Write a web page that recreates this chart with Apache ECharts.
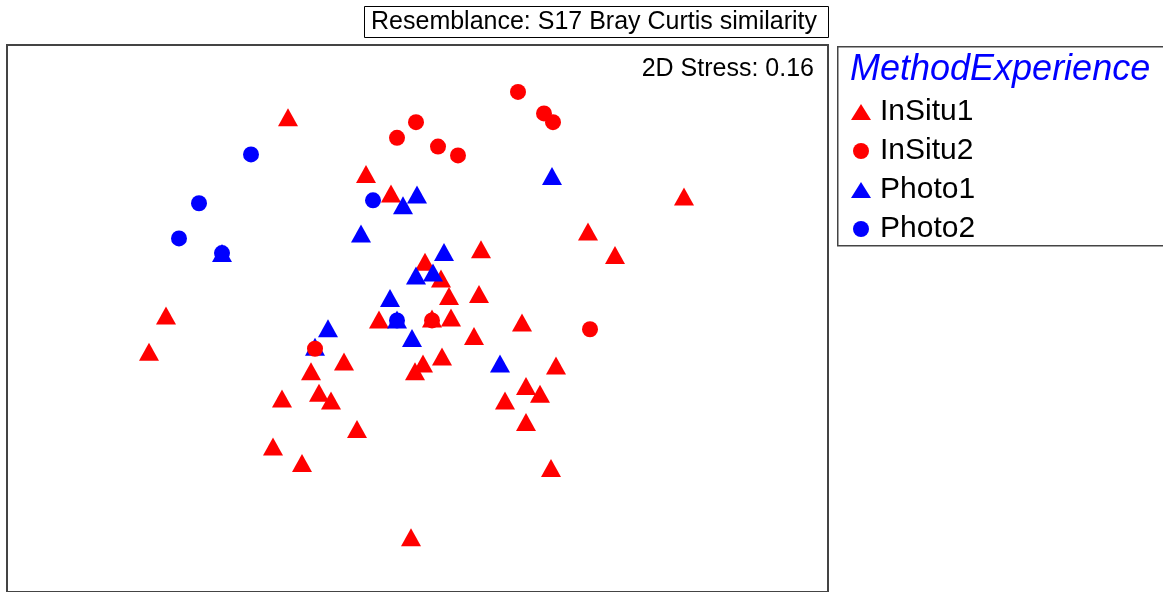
<!DOCTYPE html>
<html>
<head>
<meta charset="utf-8">
<script src="https://cdn.jsdelivr.net/npm/echarts@6/dist/echarts.min.js"></script>
<style>
html,body{margin:0;padding:0;background:#fff;}
#chart{width:1163px;height:592px;}
</style>
</head>
<body>
<div id="chart"></div>
<script>
// MDS ordination coordinates
const titleText = "Resemblance: S17 Bray Curtis similarity";
const stressText = "2D Stress: 0.16";
const legendTitle = "MethodExperience";
const seriesNames = ["InSitu1", "InSitu2", "Photo1", "Photo2"];

const inSitu1 = [
  [-1.29, 2.03], [-0.51, 1.45], [-0.26, 1.25], [2.67, 1.22], [1.71, 0.86],
  [1.98, 0.62], [0.64, 0.68], [0.08, 0.55], [0.24, 0.38], [0.32, 0.20],
  [0.62, 0.22], [-0.38, -0.04], [0.15, -0.03], [0.34, -0.02], [1.05, -0.07],
  [0.57, -0.21], [-2.51, 0.00], [-2.68, -0.37], [-0.73, -0.47], [-1.06, -0.57],
  [0.25, -0.42], [0.06, -0.49], [-0.02, -0.57], [1.39, -0.51], [-1.35, -0.85],
  [-0.98, -0.79], [-0.86, -0.87], [1.09, -0.72], [1.23, -0.80], [0.88, -0.87],
  [-0.60, -1.16], [1.09, -1.09], [-1.44, -1.34], [-1.15, -1.51], [1.34, -1.56],
  [-0.06, -2.27]
];
const inSitu2 = [
  [1.01, 2.29], [1.27, 2.07], [1.36, 1.98], [-0.01, 1.98], [-0.20, 1.82],
  [0.21, 1.73], [0.41, 1.64], [0.15, -0.05], [1.73, -0.14], [-1.02, -0.34]
];
const photo1 = [
  [1.35, 1.43], [0.00, 1.24], [-0.14, 1.13], [-0.56, 0.84], [0.27, 0.65],
  [-1.95, 0.64], [-0.01, 0.41], [0.16, 0.44], [-0.27, 0.18], [-0.20, -0.04],
  [-0.05, -0.23], [-0.89, -0.13], [-1.02, -0.32], [0.83, -0.49]
];
const photo2 = [
  [-1.66, 1.65], [-2.18, 1.15], [-2.38, 0.79], [-1.95, 0.64], [-0.44, 1.18],
  [-0.20, -0.05]
];

const RED = '#ff0000', BLUE = '#0000ff';
const FONT = '"Liberation Sans", Arial, sans-serif';

const chart = echarts.init(document.getElementById('chart'), null, {renderer: 'canvas'});

function sc(name, data, symbol, size, color, z) {
  return {
    name: name, type: 'scatter', data: data, symbol: symbol, symbolSize: size,
    itemStyle: {color: color, opacity: 1}, z: z, silent: true,
    emphasis: {disabled: true}
  };
}

const option = {
  animation: false,
  backgroundColor: '#fff',
  grid: {
    left: 7, top: 45, width: 821, height: 560,
    show: true, borderColor: '#444', borderWidth: 2, backgroundColor: '#fff'
  },
  xAxis: {type: 'value', min: -4.10, max: 4.11, show: false, splitLine: {show: false}},
  yAxis: {type: 'value', min: -2.83, max: 2.77, show: false, splitLine: {show: false}},
  legend: {
    orient: 'vertical', left: 846, top: 92,
    itemWidth: 20, itemHeight: 16, itemGap: 9,
    selectedMode: false,
    data: seriesNames,
    textStyle: {fontFamily: FONT, fontSize: 30, color: '#000', lineHeight: 30, padding: [0, 0, 0, 4]}
  },
  graphic: [
    {type: 'rect', left: 364, top: 6, shape: {width: 464, height: 31},
     style: {fill: '#fff', stroke: '#000', lineWidth: 1}, z: 10},
    {type: 'text', x: 594, y: 22, z: 11,
     style: {text: titleText, font: '25px ' + FONT, fill: '#000', align: 'center', verticalAlign: 'middle'}},
    {type: 'rect', left: 837, top: 46, shape: {width: 330, height: 199},
     style: {fill: 'transparent', stroke: '#444', lineWidth: 1.5}, z: 10},
    {type: 'text', x: 850, y: 70, z: 11,
     style: {text: legendTitle, font: 'italic 36px ' + FONT, fill: BLUE, align: 'left', verticalAlign: 'middle'}},
    {type: 'text', x: 814, y: 69, z: 11,
     style: {text: stressText, font: '25px ' + FONT, fill: '#000', align: 'right', verticalAlign: 'middle'}}
  ],
  series: [
    sc('InSitu1', inSitu1, 'triangle', [20, 18], RED, 2),
    sc('Photo1', photo1, 'triangle', [20, 18], BLUE, 3),
    sc('InSitu2', inSitu2, 'circle', 16, RED, 4),
    sc('Photo2', photo2, 'circle', 16, BLUE, 5)
  ]
};
chart.setOption(option);
</script>
</body>
</html>
